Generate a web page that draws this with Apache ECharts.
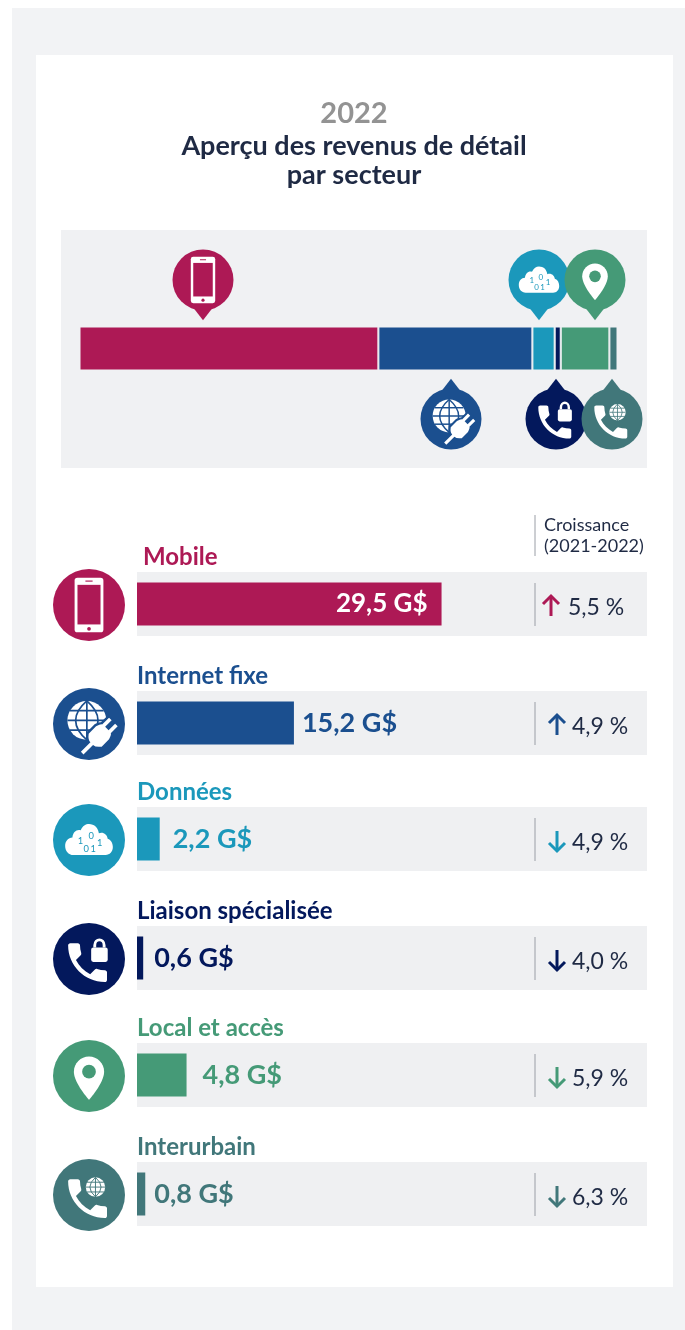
<!DOCTYPE html>
<html>
<head>
<meta charset="utf-8">
<style>
  html,body{margin:0;padding:0;background:#fff;}
  #chart{width:685px;height:1330px;}
</style>
<script src="https://cdn.jsdelivr.net/npm/echarts@6/dist/echarts.min.js"></script>
</head>
<body>
<div id="chart"></div>
<script>
// donnees
var categories = ['Mobile', 'Internet fixe', 'Données', 'Liaison spécialisée', 'Local et accès', 'Interurbain'];
var revenue = [29.5, 15.2, 2.2, 0.6, 4.8, 0.8];
var growth = [5.5, 4.9, -4.9, -4.0, -5.9, -6.3];
var colors = ['#ad1955', '#1b4f8f', '#1b98bb', '#03185c', '#459a77', '#41777a'];
var icons = ['phone', 'globePlug', 'cloud', 'lockCall', 'place', 'globeCall'];

// mise en page
var FONT = 'Lato, "Noto Sans", sans-serif';
var DARK = '#1f2a44';
var PANEL = '#eff0f2';
var rowTop = [572, 691, 807, 926, 1043, 1162];
var labelGap = [14, 8, 13, 11, 16, 9];
var pinX = [203, 451, 539, 556, 595, 612];
var pinUp = [true, false, true, false, true, false];
var pinOrder = [0, 1, 2, 4, 3, 5];

function fr(v, digits) {
  return Math.abs(v).toFixed(digits).replace('.', ',');
}

// pictogrammes, dessines dans un cercle de rayon 50
var HANDSET = 'M6.62 10.79c1.44 2.83 3.76 5.14 6.59 6.59l2.2-2.2c.27-.27.67-.36 1.02-.24 1.12.37 2.33.57 3.57.57.55 0 1 .45 1 1V20c0 .55-.45 1-1 1-9.39 0-17-7.61-17-17 0-.55.45-1 1-1h3.5c.55 0 1 .45 1 1 0 1.25.2 2.45.57 3.57.11.35.03.74-.25 1.02l-2.2 2.2z';
var PLACE = 'M12 2C8.13 2 5 5.13 5 9c0 5.25 7 13 7 13s7-7.75 7-13c0-3.87-3.13-7-7-7z';
var CLOUD = 'M-30 20C-40 20 -46 13 -46 5C-46 -3 -40 -9 -32 -9C-31 -18 -24 -23 -16 -21C-11 -31 -1 -33 7 -30C14 -28 18 -22 19 -16C27 -19 35 -14 36 -7C43 -5 46 1 46 7C46 15 40 20 32 20Z';
var PLUG = 'M-14 -15L3 -15Q12 -12 12 -10L28 -10L28 -4L13 -4L13 4L28 4L28 10L12 10Q12 12 3 15L-14 15Q-22 9 -22 3L-44 3L-44 -3L-22 -3Q-22 -9 -14 -15Z';

function handset(x, y, s, fill) {
  return {type: 'path', x: x, y: y, scaleX: s, scaleY: s, shape: {pathData: HANDSET}, style: {fill: fill}};
}
function globe(cx, cy, r, fg, bg, lw) {
  var kids = [{type: 'circle', shape: {cx: cx, cy: cy, r: r}, style: {fill: fg}}];
  var st = {stroke: bg, lineWidth: lw, fill: null};
  kids.push({type: 'line', shape: {x1: cx - r, y1: cy, x2: cx + r, y2: cy}, style: st});
  kids.push({type: 'line', shape: {x1: cx, y1: cy - r, x2: cx, y2: cy + r}, style: st});
  [-0.5, 0.5].forEach(function (k) {
    var w = r * Math.sqrt(1 - k * k);
    kids.push({type: 'line', shape: {x1: cx - w, y1: cy + k * r, x2: cx + w, y2: cy + k * r}, style: st});
  });
  kids.push({type: 'path', shape: {pathData: 'M' + cx + ' ' + (cy - r) + 'Q' + (cx - r * 1.15) + ' ' + cy + ' ' + cx + ' ' + (cy + r) + 'Q' + (cx + r * 1.15) + ' ' + cy + ' ' + cx + ' ' + (cy - r) + 'Z'}, style: st});
  return kids;
}
function glyph(name, c) {
  var w = '#fff';
  if (name === 'phone') {
    return [
      {type: 'rect', shape: {x: -20, y: -38, width: 40, height: 76, r: 4}, style: {fill: w}},
      {type: 'rect', shape: {x: -16, y: -28, width: 32, height: 55, r: 0}, style: {fill: c}},
      {type: 'circle', shape: {cx: 0, cy: 33, r: 2.6}, style: {fill: c}},
      {type: 'rect', shape: {x: -5, y: -34, width: 10, height: 1.6}, style: {fill: c}}
    ];
  }
  if (name === 'globePlug') {
    return globe(-3, -5, 27, w, c, 2.4).concat([
      {type: 'group', x: 17, y: 14, rotation: Math.PI / 4, scaleX: 0.85, scaleY: 0.85, children: [
        {type: 'path', shape: {pathData: PLUG}, style: {fill: c, stroke: c, lineWidth: 8}},
        {type: 'path', shape: {pathData: PLUG}, style: {fill: w}}
      ]}
    ]);
  }
  if (name === 'cloud') {
    var t = function (s, x, y) {
      return {type: 'text', style: {text: s, x: x, y: y, fill: c, font: '13px ' + FONT, textAlign: 'center', textVerticalAlign: 'middle'}};
    };
    return [
      {type: 'path', shape: {pathData: CLOUD}, x: 0, y: 4, scaleX: 0.72, scaleY: 0.84, style: {fill: w}},
      t('1', -12, 1), t('0', 3, -5), t('1', 15, 4), t('0', -4, 12), t('1', 6, 12)
    ];
  }
  if (name === 'lockCall') {
    return [
      handset(-38, -31, 3.0, w),
      {type: 'rect', shape: {x: 3, y: -16, width: 23, height: 20, r: 3}, style: {fill: w}},
      {type: 'path', shape: {pathData: 'M8 -16L8 -19C8 -29 21 -29 21 -19L21 -16'}, style: {fill: null, stroke: w, lineWidth: 4}}
    ];
  }
  if (name === 'place') {
    return [
      {type: 'path', x: -36, y: -33, scaleX: 3.0, scaleY: 3.0, shape: {pathData: PLACE}, style: {fill: w}},
      {type: 'circle', shape: {cx: 0, cy: -6, r: 9.5}, style: {fill: c}}
    ];
  }
  // globeCall
  return [handset(-38, -31, 3.0, w)].concat(globe(9, -11, 13.5, w, c, 1.3));
}

function iconGroup(i, cx, cy, r, extra) {
  var c = colors[i];
  var kids = (extra || []).concat([{type: 'circle', shape: {cx: 0, cy: 0, r: 50}, style: {fill: c}}], glyph(icons[i], c));
  return {type: 'group', x: cx, y: cy, scaleX: r / 50, scaleY: r / 50, children: kids};
}

function renderIcons(params, api) {
  if (params.dataIndex !== 0) return;
  var out = [];
  // pastilles au-dessus et au-dessous de la barre empilee
  pinOrder.forEach(function (i) {
    var up = pinUp[i];
    var cy = up ? 280 : 419;
    var dir = up ? 1 : -1;
    var tail = {type: 'polygon', shape: {points: [[-20, 40 * dir], [0, 66 * dir], [20, 40 * dir]]}, style: {fill: colors[i]}};
    out.push(iconGroup(i, pinX[i], cy, 30.5, [tail]));
  });
  // pastilles des rangees et fleches de croissance
  categories.forEach(function (name, i) {
    var mid = rowTop[i] + 32;
    out.push(iconGroup(i, 89, mid + 1, 36));
    var ax = i === 0 ? 551 : 557;
    var d = growth[i] > 0 ? -1 : 1;
    var ay = mid + 2;
    var st = {stroke: colors[i], lineWidth: 3, fill: null};
    out.push({type: 'line', shape: {x1: ax, y1: ay - 10 * d, x2: ax, y2: ay + 10 * d}, style: st});
    out.push({type: 'polyline', shape: {points: [[ax - 8, ay + 2 * d], [ax, ay + 10 * d], [ax + 8, ay + 2 * d]]}, style: st});
  });
  return {type: 'group', children: out};
}

// grilles, axes et series
var grids = [{left: 79.5, top: 326.5, width: 538, height: 44}];
var xAxes = [{gridIndex: 0, type: 'value', min: 0, max: 53.1, show: false}];
var yAxes = [{gridIndex: 0, type: 'category', data: ['2022'], show: false}];
var series = [];

categories.forEach(function (name, i) {
  series.push({
    name: name, type: 'bar', stack: 'total', xAxisIndex: 0, yAxisIndex: 0,
    barWidth: 44, data: [revenue[i]],
    itemStyle: {color: colors[i], borderColor: '#f0f1f3', borderWidth: 1},
    silent: true
  });
});

categories.forEach(function (name, i) {
  var g = i + 1;
  grids.push({left: 137, top: rowTop[i], width: 510, height: 64, show: true, backgroundColor: PANEL, borderWidth: 0});
  xAxes.push({gridIndex: g, type: 'value', min: 0, max: 49.4, show: false});
  yAxes.push({gridIndex: g, type: 'category', data: [name], show: false});
  var inside = i === 0;
  series.push({
    name: name, type: 'bar', xAxisIndex: g, yAxisIndex: g,
    barWidth: 43, data: [revenue[i]], silent: true,
    itemStyle: {color: colors[i]},
    label: {
      show: true,
      position: inside ? 'insideRight' : 'right',
      distance: labelGap[i],
      color: inside ? '#fff' : colors[i],
      fontFamily: FONT, fontWeight: 'bold', fontSize: inside ? 26 : 27,
      formatter: function (p) { return fr(p.value, 1) + ' G$'; }
    }
  });
});

series.push({
  type: 'custom', coordinateSystem: 'none', data: [[0]],
  renderItem: renderIcons, silent: true, z: 5, clip: false
});

// textes et fonds
var graphics = [
  {type: 'rect', z: -5, shape: {x: 12, y: 8, width: 673, height: 1322}, style: {fill: '#f2f3f5'}},
  {type: 'rect', z: -4, shape: {x: 36, y: 55, width: 637, height: 1232}, style: {fill: '#fff'}},
  {type: 'rect', z: -3, shape: {x: 61, y: 230, width: 586, height: 238}, style: {fill: '#f0f1f3'}},
  {type: 'text', x: 354, y: 114, style: {text: '2022', fill: '#939393', font: 'bold 29px ' + FONT, textAlign: 'center', textVerticalAlign: 'middle'}},
  {type: 'text', x: 354, y: 146, style: {text: 'Aperçu des revenus de détail', fill: DARK, font: 'bold 27px ' + FONT, textAlign: 'center', textVerticalAlign: 'middle'}},
  {type: 'text', x: 354, y: 175, style: {text: 'par secteur', fill: DARK, font: 'bold 27px ' + FONT, textAlign: 'center', textVerticalAlign: 'middle'}},
  {type: 'line', shape: {x1: 535, y1: 515, x2: 535, y2: 556}, style: {stroke: '#9a9ea6', lineWidth: 1}},
  {type: 'text', x: 544, y: 525, style: {text: 'Croissance', fill: DARK, font: '18px ' + FONT, textVerticalAlign: 'middle'}},
  {type: 'text', x: 544, y: 546, style: {text: '(2021-2022)', fill: DARK, font: '18px ' + FONT, textVerticalAlign: 'middle'}}
];
categories.forEach(function (name, i) {
  var top = rowTop[i];
  graphics.push({type: 'text', x: i === 0 ? 143 : 137, y: top - 15, style: {text: name, fill: colors[i], font: 'bold 24px ' + FONT, textVerticalAlign: 'middle'}});
  graphics.push({type: 'line', shape: {x1: 535, y1: top + 11, x2: 535, y2: top + 54}, style: {stroke: '#9a9ea6', lineWidth: 1}});
  graphics.push({type: 'text', x: i === 0 ? 568 : 572, y: top + 36, style: {text: fr(growth[i], 1) + ' %', fill: DARK, font: '23px ' + FONT, textVerticalAlign: 'middle'}});
});

var myChart = echarts.init(document.getElementById('chart'), null, {renderer: 'canvas'});
myChart.setOption({
  animation: false,
  backgroundColor: '#fff',
  tooltip: {show: false},
  legend: {show: false},
  grid: grids,
  xAxis: xAxes,
  yAxis: yAxes,
  graphic: {elements: graphics},
  series: series
});
</script>
</body>
</html>
